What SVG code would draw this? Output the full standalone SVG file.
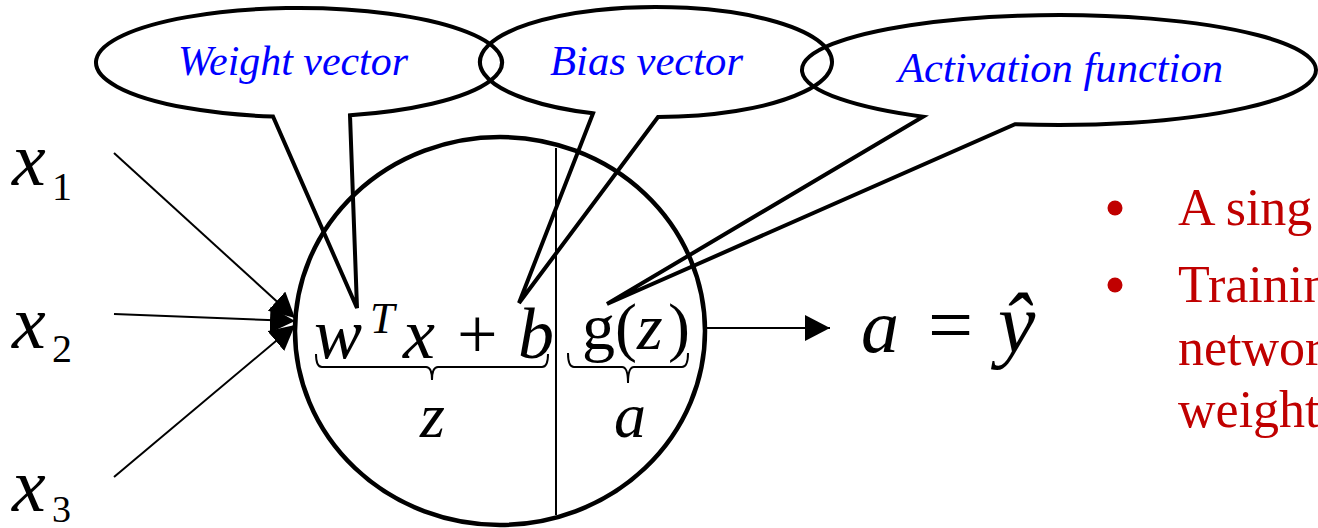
<svg xmlns="http://www.w3.org/2000/svg" width="1318" height="528" viewBox="0 0 1318 528">
<style>
.callout{fill:none;stroke:#000;stroke-width:4;stroke-linejoin:miter}
.clabel{font-family:"Liberation Serif","Tinos","Times New Roman",serif;font-style:italic;font-size:42px;fill:#0000FF}
.m{font-family:"Liberation Serif","Tinos","Times New Roman",serif;font-style:italic;fill:#000}
.r{font-family:"Liberation Serif","Tinos","Times New Roman",serif;fill:#000}
.wire{stroke:#000;stroke-width:2;fill:none}
.brace{stroke:#000;stroke-width:2;fill:none}
.red{font-family:"Liberation Serif","Tinos","Times New Roman",serif;font-size:52px;fill:#C00000}
</style>
<defs>
<marker id="ah" markerUnits="userSpaceOnUse" markerWidth="26" markerHeight="26" refX="25" refY="13" orient="auto">
<path d="M0,0 L25,13 L0,26 Z" fill="#000"/>
</marker>
</defs>

<g id="inputs">
<text class="m" x="12" y="185" font-size="76">x</text>
<text class="r" x="52" y="200" font-size="40">1</text>
<text class="m" x="12" y="348" font-size="76">x</text>
<text class="r" x="52" y="362" font-size="40">2</text>
<text class="m" x="12" y="511" font-size="76">x</text>
<text class="r" x="52" y="522" font-size="38">3</text>
</g>

<g id="connectors">
<line class="wire" x1="114" y1="153" x2="295" y2="318" marker-end="url(#ah)"/>
<line class="wire" x1="114" y1="314" x2="295" y2="321" marker-end="url(#ah)"/>
<line class="wire" x1="114" y1="477" x2="295" y2="325" marker-end="url(#ah)"/>
<line class="wire" x1="707" y1="328" x2="830" y2="328" marker-end="url(#ah)"/>
</g>

<g id="neuron">
<ellipse cx="500" cy="331" rx="205" ry="194" fill="none" stroke="#000" stroke-width="4.5"/>
<line x1="556" y1="148" x2="556" y2="515" stroke="#000" stroke-width="2"/>
<text class="m" x="314" y="358" font-size="72">w</text>
<text class="m" x="370" y="333" font-size="44">T</text>
<text class="m" x="403" y="358" font-size="72">x</text>
<text class="r" x="457" y="358" font-size="72">+</text>
<text class="m" x="518" y="358" font-size="72">b</text>
<text class="r" x="582" y="349" font-size="66">g(</text>
<text class="m" x="637" y="349" font-size="66">z</text>
<text class="r" x="668" y="349" font-size="66">)</text>
<path class="brace" d="M316,354 Q316,367 322,367 L426,367 Q432,367 432,380 Q432,367 438,367 L542,367 Q548,367 548,354"/>
<path class="brace" d="M568,353 Q568,367 574,367 L622,367 Q628,367 628,383 Q628,367 634,367 L682,367 Q688,367 688,353"/>
<text class="m" x="420" y="437" font-size="64">z</text>
<text class="m" x="614" y="437" font-size="64">a</text>
</g>

<g id="output">
<text class="m" x="861" y="352" font-size="76">a</text>
<text class="r" x="928" y="352" font-size="80">=</text>
<text class="m" x="998" y="352" font-size="84">ŷ</text>
</g>

<g id="callout-weight">
<path class="callout" d="M273,116.551 A203,54.5 0 1 1 350,115.252 L357,308 Z"/>
<text class="clabel" x="178" y="75" textLength="230" lengthAdjust="spacingAndGlyphs">Weight vector</text>
</g>

<g id="callout-bias">
<path class="callout" d="M593,113.356 A176,55 0 1 1 658,116.996 L519,303 Z"/>
<text class="clabel" x="550" y="75" textLength="193" lengthAdjust="spacingAndGlyphs">Bias vector</text>
</g>

<g id="callout-activation">
<path class="callout" d="M923,116.668 A257,55 0 1 1 1015,124.188 L607,304 Z"/>
<text class="clabel" x="898" y="82" textLength="325" lengthAdjust="spacingAndGlyphs">Activation function</text>
</g>

<g id="notes">
<circle cx="1115" cy="208" r="7.5" fill="#C00000"/>
<circle cx="1115" cy="285" r="7.5" fill="#C00000"/>
<text class="red" x="1178" y="225">A sing</text>
<text class="red" x="1178" y="302">Trainin</text>
<text class="red" x="1178" y="365">networ</text>
<text class="red" x="1178" y="427">weight</text>
</g>
</svg>
